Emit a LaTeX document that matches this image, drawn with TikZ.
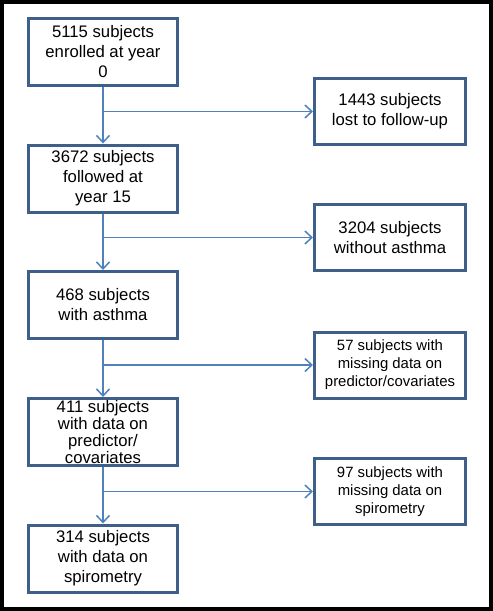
\documentclass[tikz,border=0pt]{standalone}
\usepackage{fontspec}
\setmainfont{Liberation Sans}
\usetikzlibrary{arrows.meta}
\definecolor{boxline}{RGB}{62,95,138}
\definecolor{connline}{RGB}{79,129,189}
\tikzset{
  lbox/.style={draw=boxline, line width=3pt, minimum width=149pt, minimum height=67pt, inner sep=0pt, align=center, font=\fontsize{16.7}{20}\selectfont},
  rbox/.style={draw=boxline, line width=3pt, minimum width=151pt, minimum height=66pt, inner sep=0pt, align=center, font=\fontsize{16.7}{20}\selectfont},
  small/.style={font=\fontsize{14.9}{18}\selectfont},
  conn/.style={draw=connline, line width=1.5pt, -{Straight Barb[length=7pt,width=13pt,line width=1.5pt]}},
  seg/.style={draw=connline, line width=1.5pt}
}
\begin{document}
\begin{tikzpicture}[x=1pt,y=-1pt]
\useasboundingbox (0,0) rectangle (493,611);
\draw[line width=4pt] (2,2) rectangle (491,609);
\node[lbox] (b1) at (103,52) {5115 subjects\\enrolled at year\\0};
\node[lbox] (b2) at (103,178.5) {3672 subjects\\followed at\\year 15};
\node[lbox] (b3) at (103,305) {468 subjects\\with asthma};
\node[lbox, font=\fontsize{16.7}{17}\selectfont] (b4) at (103,432) {411 subjects\\with data on\\predictor/\\covariates};
\node[lbox] (b5) at (103,558.5) {314 subjects\\with data on\\spirometry};
\node[rbox] (r1) at (390,111.5) {1443 subjects\\lost to follow-up};
\node[rbox] (r2) at (390,237.5) {3204 subjects\\without asthma};
\node[rbox, small] (r3) at (390,365) {57 subjects with\\missing data on\\predictor/covariates};
\node[rbox, small] (r4) at (390,491.5) {97 subjects with\\missing data on\\spirometry};
\draw[conn] (b1.south) -- (b2.north);
\draw[conn] (b2.south) -- (b3.north);
\draw[conn] (b3.south) -- (b4.north);
\draw[conn] (b4.south) -- (b5.north);
\draw[conn] (b1.south |- r1.west) -- (r1.west);
\draw[conn] (b2.south |- r2.west) -- (r2.west);
\draw[conn] (b3.south |- r3.west) -- (r3.west);
\draw[conn] (b4.south |- r4.west) -- (r4.west);
\end{tikzpicture}
\end{document}
